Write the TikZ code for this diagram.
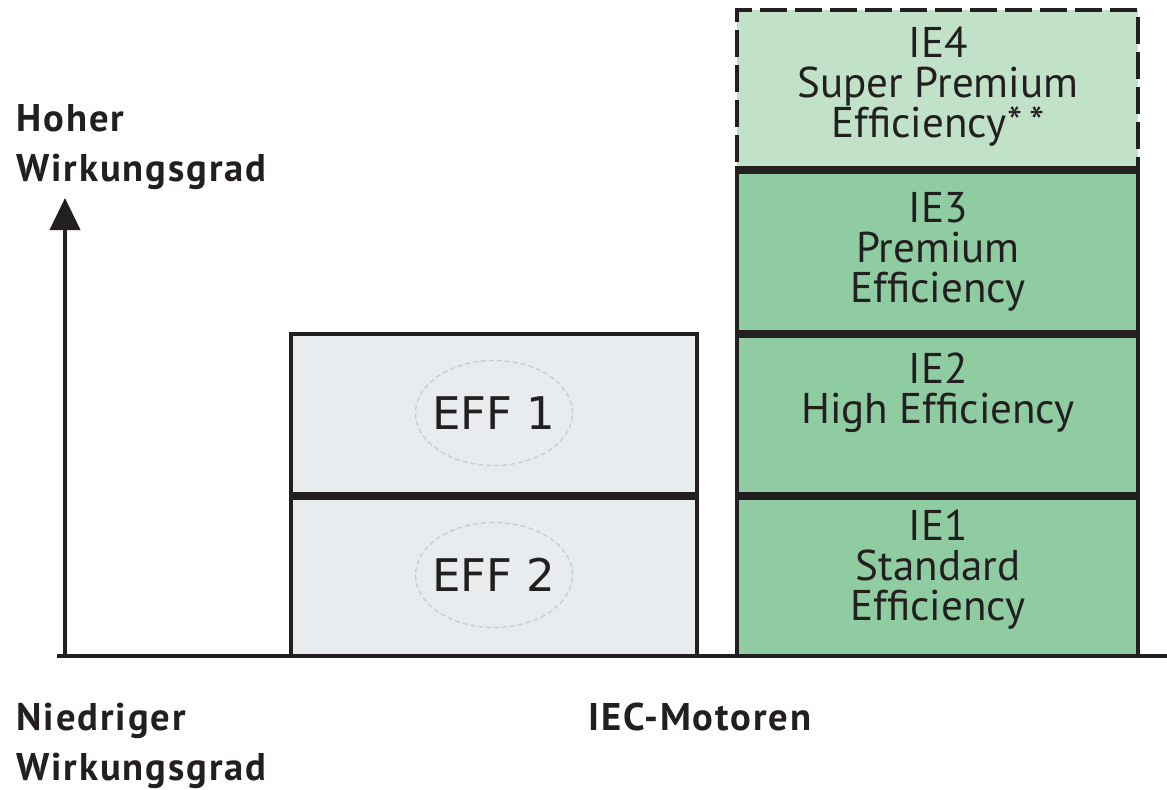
\documentclass[tikz,border=0pt]{standalone}
\usepackage{fontspec}
\setmainfont{PT Sans}
\newfontfamily\efffont{DejaVu Sans}
\newfontfamily\axfont[LetterSpace=5]{PT Sans}
\usetikzlibrary{arrows.meta,shapes.geometric}
\definecolor{ink}{HTML}{231F20}
\definecolor{effgray}{HTML}{E8ECEF}
\definecolor{ieforfill}{HTML}{C1E2C8}
\definecolor{iefill}{HTML}{8FCCA2}
\definecolor{ovalgray}{HTML}{C6CACD}
\tikzset{
  stackbox/.style={draw=ink, line width=2pt, rectangle, inner sep=0pt, minimum width=200.5pt},
  iebox/.style={stackbox, fill=iefill},
  ieforbox/.style={stackbox, fill=ieforfill, dash pattern=on 13.5pt off 4pt},
  effbox/.style={stackbox, fill=effgray, minimum width=203pt},
  divider/.style={draw=ink, line width=3.5pt},
  boxtext/.style={inner sep=0pt, align=center, text=ink, anchor=north,
    font=\fontsize{21.5}{20}\selectfont},
  axlabel/.style={inner sep=0pt, align=left, text=ink, anchor=north west,
    font=\axfont\bfseries\fontsize{19.3}{25}\selectfont},
  effoval/.style={ellipse, draw=ovalgray, line width=0.6pt, dash pattern=on 2.5pt off 1.5pt,
    minimum width=78.5pt, minimum height=52.5pt, inner sep=0pt},
  efftext/.style={inner sep=0pt, text=ink, font=\efffont\fontsize{22.5}{26}\selectfont},
  axisline/.style={draw=ink, line width=2pt}
}
\begin{document}
\begin{tikzpicture}[x=0.5pt,y=-0.5pt]
\useasboundingbox (0,0) rectangle (1167,789);
% EFF boxes
\node[effbox, minimum height=80pt] (eff1) at (494,414) {};
\node[effbox, minimum height=81pt] (eff2) at (494,575) {};
\draw[divider] (eff1.south west) -- (eff1.south east);
\node[effoval] (eff1o) at (494,413) {};
\node[effoval] (eff2o) at (494,575) {};
\node[efftext] (eff1l) at (eff1o.center) {EFF 1};
\node[efftext] (eff2l) at (eff2o.center) {EFF 2};
% IE stack
\node[ieforbox, minimum height=79pt] (ie4) at (937.5,89) {};
\node[iebox, minimum height=82pt] (ie3) at (937.5,250) {};
\node[iebox, minimum height=81pt] (ie2) at (937.5,413) {};
\node[iebox, minimum height=81pt] (ie1) at (937.5,575) {};
\draw[divider] (ie4.south west) -- (ie4.south east);
\draw[divider] (ie3.south west) -- (ie3.south east);
\draw[divider] (ie2.south west) -- (ie2.south east);
\node[boxtext] (ie4t) at (938,27) {IE4\\Super Premium\\Efficiency*\,*};
\node[boxtext] (ie3t) at (938,192) {IE3\\Premium\\Efficiency};
\node[boxtext] (ie2t) at (938,352) {IE2\\High Efficiency};
\node[boxtext] (ie1t) at (938,509) {IE1\\Standard\\Efficiency};
% axes
\coordinate (orig) at (65,656);
\coordinate (ytop) at (65,198);
\coordinate (xleft) at (57,656);
\coordinate (xright) at (1167,656);
\draw[axisline, line width=1.8pt] (xleft) -- (xright);
\draw[axisline, -{Triangle[length=16pt,width=15pt]}] (orig) -- (ytop);
% labels
\node[axlabel] (hoch) at (16,104) {Hoher\\Wirkungsgrad};
\node[axlabel] (nied) at (16,703) {Niedriger\\Wirkungsgrad};
\node[axlabel] (iec) at (588,703) {IEC-Motoren};
\end{tikzpicture}
\end{document}
